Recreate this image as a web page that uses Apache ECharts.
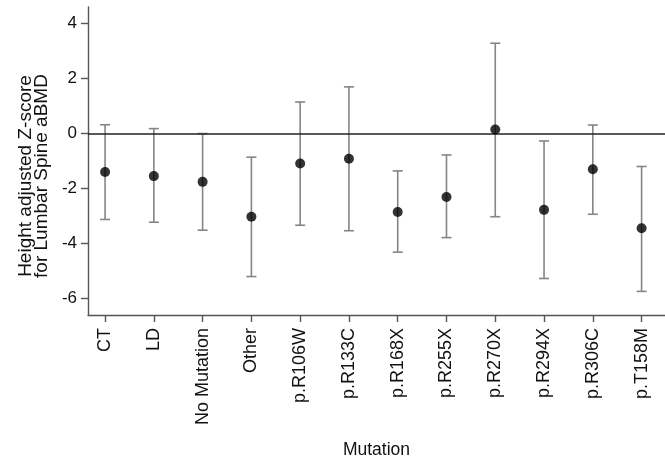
<!DOCTYPE html>
<html>
<head>
<meta charset="utf-8">
<script src="https://cdn.jsdelivr.net/npm/echarts@6/dist/echarts.min.js"></script>
<style>
  html, body { margin: 0; padding: 0; background: #fff; }
  #chart { width: 665px; height: 464px; }
</style>
</head>
<body>
<div id="chart"></div>
<script>
// mutation groups along the x axis
var categories = ['CT', 'LD', 'No Mutation', 'Other', 'p.R106W', 'p.R133C',
  'p.R168X', 'p.R255X', 'p.R270X', 'p.R294X', 'p.R306C', 'p.T158M'];
// mean height adjusted Z-score
var means = [-1.41, -1.56, -1.77, -3.04, -1.10, -0.93, -2.87, -2.32, 0.14, -2.79, -1.31, -3.46];
// upper / lower confidence limits
var upper = [0.31, 0.17, -0.01, -0.87, 1.14, 1.69, -1.37, -0.79, 3.28, -0.28, 0.30, -1.21];
var lower = [-3.14, -3.24, -3.53, -5.22, -3.35, -3.55, -4.33, -3.80, -3.04, -5.29, -2.95, -5.76];
var yTicks = [-6, -4, -2, 0, 2, 4];

var font = '"Liberation Sans", Arial, sans-serif';
var idx = categories.map(function (c, i) { return i; });

var chart = echarts.init(document.getElementById('chart'));

var option = {
  animation: false,
  backgroundColor: '#fff',
  grid: { left: 88, right: 0, top: 7, bottom: 143 },
  xAxis: {
    type: 'value',
    min: -0.35,
    max: 11.48,
    name: 'Mutation',
    nameLocation: 'middle',
    nameGap: 126,
    nameTextStyle: { fontFamily: font, fontSize: 17.5, color: '#111' },
    splitLine: { show: false },
    axisLine: { onZero: false, lineStyle: { color: '#555', width: 1.4 } },
    axisTick: { customValues: idx, length: 7, lineStyle: { color: '#555', width: 1.4 } },
    axisLabel: {
      customValues: idx,
      rotate: 90,
      margin: 13,
      fontFamily: font,
      fontSize: 18,
      color: '#111',
      formatter: function (v) { return categories[Math.round(v)]; }
    }
  },
  yAxis: {
    type: 'value',
    min: -6.62,
    max: 4.6,
    name: 'Height adjusted Z-score\nfor Lumbar Spine aBMD',
    nameLocation: 'middle',
    nameRotate: 90,
    nameGap: 33,
    nameTextStyle: { fontFamily: font, fontSize: 19, color: '#111', lineHeight: 16, padding: [0, 30, 0, 0] },
    splitLine: { show: false },
    axisLine: { show: true, onZero: false, lineStyle: { color: '#555', width: 1.4 } },
    axisTick: { show: true, customValues: yTicks, length: 7, lineStyle: { color: '#555', width: 1.4 } },
    axisLabel: {
      customValues: yTicks,
      margin: 11,
      fontFamily: font,
      fontSize: 17,
      color: '#111'
    }
  },
  series: [
    {
      type: 'custom',
      data: idx.map(function (i) { return [i, lower[i], upper[i]]; }),
      renderItem: function (params, api) {
        var x = api.value(0);
        var lo = api.coord([x, api.value(1)]);
        var hi = api.coord([x, api.value(2)]);
        var half = 5;
        var style = { stroke: '#858585', lineWidth: 1.6 };
        return {
          type: 'group',
          children: [
            { type: 'line', shape: { x1: hi[0], y1: hi[1], x2: lo[0], y2: lo[1] }, style: style },
            { type: 'line', shape: { x1: hi[0] - half, y1: hi[1], x2: hi[0] + half, y2: hi[1] }, style: style },
            { type: 'line', shape: { x1: lo[0] - half, y1: lo[1], x2: lo[0] + half, y2: lo[1] }, style: style }
          ]
        };
      },
      z: 2
    },
    {
      type: 'scatter',
      data: idx.map(function (i) { return [i, means[i]]; }),
      symbol: 'circle',
      symbolSize: 10,
      itemStyle: { color: '#000' },
      z: 4,
      markLine: {
        silent: true,
        symbol: 'none',
        label: { show: false },
        lineStyle: { color: '#222', width: 1.6, type: 'solid' },
        data: [{ yAxis: 0 }],
        z: 3
      }
    }
  ]
};

chart.setOption(option);
</script>
</body>
</html>
